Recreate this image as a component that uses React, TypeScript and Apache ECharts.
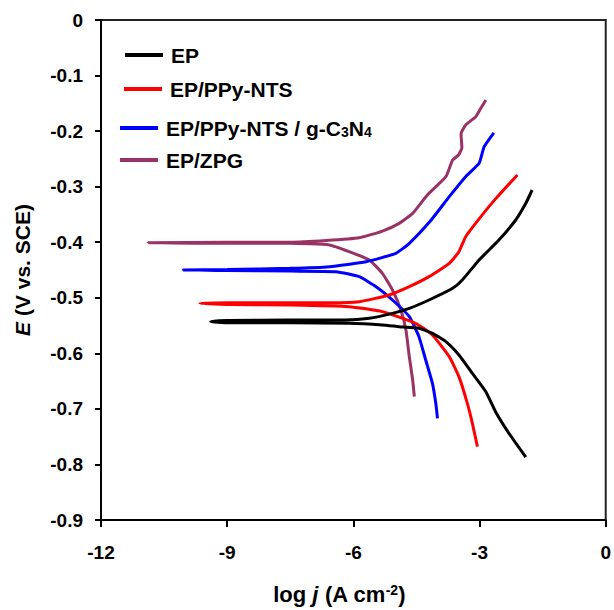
import React, { useEffect, useRef } from 'react';
import * as echarts from 'echarts';

const seriesNames = ['EP', 'EP/PPy-NTS', 'EP/PPy-NTS / g-C3N4', 'EP/ZPG'];
const seriesColors = ['#000000', '#ff0000', '#0000ff', '#993366'];

const xTicks = { min: -12, max: 0, interval: 3 };
const yTicks = { min: -0.9, max: 0, interval: 0.1 };

const epLogJ = [-1.90, -2.30, -2.62, -2.85, -3.17, -3.49, -3.80, -4.12, -4.44, -4.91, -5.31, -6.10, -7.50, -9.00, -9.39, -9.00, -7.50, -6.20, -5.62, -5.07, -4.67, -4.20, -3.64, -3.41, -3.01, -2.54, -2.14, -1.90, -1.75];
const epE = [-0.787, -0.744, -0.705, -0.669, -0.636, -0.603, -0.579, -0.564, -0.555, -0.552, -0.549, -0.546, -0.545, -0.545, -0.543, -0.541, -0.540, -0.540, -0.537, -0.528, -0.519, -0.504, -0.483, -0.468, -0.432, -0.396, -0.360, -0.330, -0.306];

const ntsLogJ = [-3.05, -3.17, -3.29, -3.49, -3.72, -4.12, -4.52, -5.31, -6.10, -7.50, -9.00, -9.65, -9.00, -7.50, -6.50, -5.86, -5.15, -4.67, -4.20, -3.72, -3.49, -3.33, -3.01, -2.62, -2.10];
const ntsE = [-0.768, -0.726, -0.690, -0.642, -0.606, -0.567, -0.546, -0.525, -0.516, -0.513, -0.512, -0.510, -0.509, -0.509, -0.509, -0.507, -0.495, -0.480, -0.462, -0.438, -0.417, -0.390, -0.358, -0.322, -0.279];

const cnLogJ = [-4.00, -4.04, -4.12, -4.28, -4.44, -4.67, -5.07, -5.46, -5.86, -6.41, -7.50, -9.00, -10.05, -9.00, -7.50, -6.57, -5.70, -4.99, -4.67, -4.16, -3.72, -3.33, -3.01, -2.89, -2.66];
const cnE = [-0.717, -0.690, -0.654, -0.612, -0.570, -0.534, -0.504, -0.480, -0.462, -0.453, -0.452, -0.451, -0.450, -0.449, -0.447, -0.444, -0.435, -0.420, -0.402, -0.361, -0.318, -0.282, -0.258, -0.228, -0.203];

const zpgLogJ = [-4.55, -4.59, -4.67, -4.75, -4.87, -5.07, -5.31, -5.62, -6.10, -6.57, -7.50, -9.00, -10.88, -9.00, -7.50, -6.65, -5.86, -5.31, -4.91, -4.59, -4.24, -3.80, -3.64, -3.50, -3.42, -3.44, -3.33, -3.09, -2.97, -2.85];
const zpgE = [-0.678, -0.648, -0.606, -0.558, -0.522, -0.486, -0.456, -0.432, -0.417, -0.405, -0.402, -0.402, -0.401, -0.400, -0.400, -0.397, -0.392, -0.380, -0.366, -0.348, -0.315, -0.282, -0.252, -0.243, -0.230, -0.205, -0.189, -0.174, -0.159, -0.144];

const allLogJ = [epLogJ, ntsLogJ, cnLogJ, zpgLogJ];
const allE = [epE, ntsE, cnE, zpgE];

const legendPos = [
  { left: 125, top: 44 },
  { left: 124, top: 78 },
  { left: 120, top: 117 },
  { left: 120, top: 149 },
];

const FONT = '"Liberation Sans", Arial, sans-serif';

export default function App() {
  const ref = useRef<HTMLDivElement>(null);
  useEffect(() => {
    if (!ref.current) return;
    const chart = echarts.init(ref.current, undefined, { renderer: 'svg' });
    const series = seriesNames.map((name, i) => ({
      name,
      type: 'line',
      data: allLogJ[i].map((x, k) => [x, allE[i][k]]),
      symbol: 'none',
      smooth: 0.15,
      lineStyle: { color: seriesColors[i], width: 3 },
      itemStyle: { color: seriesColors[i] },
      z: 10 - i,
    }));
    const legends = seriesNames.map((name, i) => ({
      data: [name],
      left: legendPos[i].left,
      top: legendPos[i].top,
      orient: 'vertical',
      padding: 0,
      icon: 'rect',
      itemWidth: 38,
      itemHeight: 4,
      selectedMode: false,
      formatter: (n: string) => (n === 'EP/PPy-NTS / g-C3N4' ? 'EP/PPy-NTS / g-C{s|3}N{s|4}' : n),
      textStyle: {
        fontFamily: FONT,
        fontWeight: 'bold',
        fontSize: 21,
        color: '#000',
        lineHeight: 22,
        padding: [0, 0, 0, 3],
        rich: {
          s: { fontFamily: FONT, fontWeight: 'bold', fontSize: 14, color: '#000', verticalAlign: 'bottom', lineHeight: 14, padding: [8, 0, 0, 0] },
        },
      },
    }));
    chart.setOption({
      animation: false,
      backgroundColor: '#ffffff',
      grid: { left: 101, right: 7, top: 20, bottom: 90, show: true, borderColor: '#222', borderWidth: 2 },
      legend: legends,
      xAxis: {
        type: 'value',
        min: xTicks.min,
        max: xTicks.max,
        interval: xTicks.interval,
        name: 'log {i|j} (A cm{sup|-2})',
        nameLocation: 'middle',
        nameGap: 63,
        nameTextStyle: {
          fontFamily: FONT,
          fontWeight: 'bold',
          fontSize: 22,
          color: '#000',
          padding: [0, 28, 0, 0],
          rich: {
            i: { fontFamily: FONT, fontWeight: 'bold', fontStyle: 'italic', fontSize: 22, color: '#000' },
            sup: { fontFamily: FONT, fontWeight: 'bold', fontSize: 14, color: '#000', verticalAlign: 'top', padding: [0, 0, 8, 0] },
          },
        },
        axisLine: { onZero: false, lineStyle: { color: '#000', width: 2 } },
        axisTick: { show: true, inside: false, length: 7, lineStyle: { color: '#000', width: 2 } },
        axisLabel: { fontFamily: FONT, fontWeight: 'bold', fontSize: 19, color: '#000', margin: 23 },
        splitLine: { show: false },
      },
      yAxis: {
        type: 'value',
        min: yTicks.min,
        max: yTicks.max,
        interval: yTicks.interval,
        name: '{i|E} (V vs. SCE)',
        nameLocation: 'middle',
        nameGap: 68,
        nameTextStyle: {
          fontFamily: FONT,
          fontWeight: 'bold',
          fontSize: 21,
          color: '#000',
          rich: {
            i: { fontFamily: FONT, fontWeight: 'bold', fontStyle: 'italic', fontSize: 21, color: '#000' },
          },
        },
        axisLine: { onZero: false, lineStyle: { color: '#000', width: 2 } },
        axisTick: { show: true, inside: false, length: 6, lineStyle: { color: '#000', width: 2 } },
        axisLabel: {
          fontFamily: FONT,
          fontWeight: 'bold',
          fontSize: 19,
          color: '#000',
          margin: 18,
          formatter: (v: number) => (Math.abs(v) < 1e-9 ? '0' : v.toFixed(1)),
        },
        splitLine: { show: false },
      },
      series,
    });
    return () => chart.dispose();
  }, []);
  return <div ref={ref} style={{ position: 'fixed', left: 0, top: 0, width: 614, height: 610 }} />;
}
